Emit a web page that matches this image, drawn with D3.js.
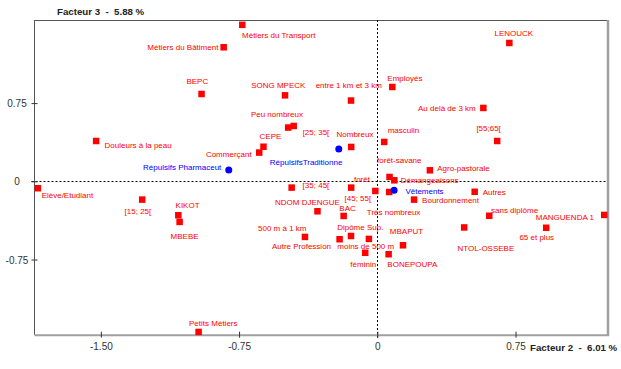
<!DOCTYPE html>
<html>
<head>
<meta charset="utf-8">
<script src="https://cdn.jsdelivr.net/npm/d3@7"></script>
<style>
  body { margin: 0; background: #fff; }
  text { font-family: "Liberation Sans", Arial, sans-serif; }
</style>
</head>
<body>
<div id="plan"></div>
<script>
// modalites actives (carres rouges)
var modalites = ["Métiers du Transport", "Métiers du Bâtiment", "BEPC", "SONG MPECK", "entre 1 km et 3 km",
  "Employés", "LENOUCK", "Au delà de 3 km", "Peu nombreux", "[25; 35[", "CEPE", "Commerçant", "Nombreux",
  "masculin", "[55;65[", "Douleurs à la peau", "Agro-pastorale", "forêt-savane", "Démangeaisons",
  "Elève/Etudiant", "[15; 25[", "KIKOT", "MBEBE", "[35; 45[", "forêt", "[45; 55[", "Très nombreux",
  "Autres", "Bourdonnement", "sans diplôme", "NTOL-OSSEBE", "MANGUENDA 1", "65 et plus", "MBAPUT",
  "BONEPOUPA", "féminin", "NDOM DJENGUE", "BAC", "500 m à 1 km", "Autre Profession", "Dipôme Sup.",
  "moins de 500 m", "Petits Métiers"];
var f2 = [-0.734, -0.835, -0.955, -0.502, -0.144,
  0.080, 0.715, 0.574, -0.485, -0.455, -0.619, -0.642, -0.143,
  0.036, 0.649, -1.527, 0.284, 0.065, 0.091,
  -1.843, -1.277, -1.081, -1.074, -0.466, -0.143, -0.012, 0.063,
  0.527, 0.198, 0.606, 0.470, 1.230, 0.915, 0.138,
  0.060, -0.067, -0.326, -0.184, -0.394, -0.206, -0.144,
  -0.047, -0.971];
var f3 = [1.503, 1.288, 0.840, 0.827, 0.777,
  0.907, 1.329, 0.706, 0.518, 0.533, 0.334, 0.278, 0.332,
  0.380, 0.389, 0.389, 0.108, 0.044, 0.012,
  -0.064, -0.173, -0.323, -0.387, -0.058, -0.058, -0.090, -0.100,
  -0.098, -0.173, -0.328, -0.440, -0.320, -0.443, -0.611,
  -0.697, -0.683, -0.285, -0.330, -0.531, -0.553, -0.522,
  -0.550, -1.442];

// variables supplementaires (points bleus)
var supplementaires = ["Répulsifs Pharmaceut", "RépulsifsTraditionne", "Vêtements"];
var sf2 = [-0.806, -0.209, 0.091];
var sf3 = [0.108, 0.310, -0.086];

var xTicks = [-1.5, -0.75, 0, 0.75];
var yTicks = [-0.75, 0, 0.75];
var xTickLabels = ["-1.50", "-0.75", "0", "0.75"];
var yTickLabels = ["-0.75", "0", "0.75"];

// placement des etiquettes : ancre, dx, dy (pixels)
var placement = {
  "Métiers du Transport": ["start", 0, 13.5], "Métiers du Bâtiment": ["end", -5, 3.3],
  "BEPC": ["middle", -4, -10], "SONG MPECK": ["middle", -6.5, -7],
  "entre 1 km et 3 km": ["middle", -2, -12], "Employés": ["start", -4.7, -5.4],
  "LENOUCK": ["middle", 4.8, -7], "Au delà de 3 km": ["end", -7.3, 3.6],
  "Peu nombreux": ["middle", -11, -10.3], "[25; 35[": ["start", 9.2, 9],
  "CEPE": ["middle", 7.2, -7.8], "Commerçant": ["end", -7.3, 4.4],
  "Nombreux": ["middle", 4, -9.4], "masculin": ["start", 3.7, -8.7],
  "[55;65[": ["middle", -8.3, -10], "Douleurs à la peau": ["start", 8.7, 7.3],
  "Agro-pastorale": ["start", 7.6, 1], "forêt-savane": ["middle", 10, -13.7],
  "Démangeaisons": ["start", 6.7, 3.3], "Elève/Etudiant": ["start", 4, 10.3],
  "[15; 25[": ["middle", -4, 14.7], "KIKOT": ["middle", 9.5, -6.7],
  "MBEBE": ["middle", 5.2, 17], "[35; 45[": ["start", 11.2, 1],
  "forêt": ["middle", 11, -5.3], "[45; 55[": ["middle", -17.2, 10.6],
  "Très nombreux": ["middle", 4.7, 23], "Autres": ["start", 8.2, 3.5],
  "Bourdonnement": ["start", 8.3, 3.7], "sans diplôme": ["start", 2, -2.5],
  "NTOL-OSSEBE": ["middle", 22, 23.8], "MANGUENDA 1": ["end", -10, 5.3],
  "65 et plus": ["middle", -9.2, 12.2], "MBAPUT": ["middle", 3.8, -11],
  "BONEPOUPA": ["start", -1, 13.3], "féminin": ["middle", -1.7, 14.8],
  "NDOM DJENGUE": ["middle", -9.8, -5.7], "BAC": ["middle", 4.2, -4.4],
  "500 m à 1 km": ["middle", -22.4, -6], "Autre Profession": ["end", -8.3, 9.7],
  "Dipôme Sup.": ["middle", 9.5, -6], "moins de 500 m": ["middle", -2.9, 10.3],
  "Petits Métiers": ["start", -9.3, -5.4], "Répulsifs Pharmaceut": ["end", -7.4, 0.3],
  "RépulsifsTraditionne": ["middle", -32.7, 15.7], "Vêtements": ["start", 11.3, 3.4]
};

var width = 621, height = 369;
var plotLeft = 34.5, plotRight = 607.5, plotTop = 20, plotBottom = 334.7;

var svg = d3.select("#plan")
  .append("svg")
  .attr("width", width)
  .attr("height", height);

var x = d3.scaleLinear()
  .domain([-1.86, 1.249])
  .range([plotLeft, plotRight]);

var y = d3.scaleLinear()
  .domain([-1.471, 1.547])
  .range([plotBottom, plotTop]);

// cadre
svg.append("line").attr("x1", plotLeft).attr("x2", plotRight).attr("y1", plotTop + 0.5).attr("y2", plotTop + 0.5)
  .style("stroke", "#555").style("stroke-width", 1);
svg.append("line").attr("x1", plotRight + 0.5).attr("x2", plotRight + 0.5).attr("y1", plotTop).attr("y2", plotBottom + 1)
  .style("stroke", "#a0a0a0").style("stroke-width", 2.5);
svg.append("line").attr("x1", plotLeft).attr("x2", plotRight + 1.5).attr("y1", plotBottom + 0.5).attr("y2", plotBottom + 0.5)
  .style("stroke", "#a0a0a0").style("stroke-width", 2);

// axes des zeros
svg.append("line")
  .attr("x1", plotLeft - 3).attr("x2", plotRight)
  .attr("y1", Math.round(y(0)) + 0.5).attr("y2", Math.round(y(0)) + 0.5)
  .style("stroke", "#000").style("stroke-dasharray", "2,2");
svg.append("line")
  .attr("x1", Math.round(x(0)) + 0.5).attr("x2", Math.round(x(0)) + 0.5)
  .attr("y1", plotTop).attr("y2", plotBottom + 3)
  .style("stroke", "#000").style("stroke-dasharray", "2,2");

var yAxis = svg.append("g")
  .attr("transform", "translate(" + plotLeft + ",0)")
  .call(d3.axisLeft(y).tickValues(yTicks).tickSize(0).tickPadding(0)
    .tickFormat(function (d, i) { return yTickLabels[i]; }));
yAxis.select(".domain").attr("d", "M0," + plotTop + "V" + plotBottom).style("stroke", "#555");
yAxis.selectAll(".tick line").attr("x1", -3).attr("x2", 3).style("stroke", "#333");
yAxis.selectAll(".tick text")
  .attr("text-anchor", "middle").attr("x", -17.5).attr("dy", "0.35em")
  .style("font-size", "10px").style("fill", "#333");

var xAxis = svg.append("g")
  .attr("transform", "translate(0," + plotBottom + ")")
  .call(d3.axisBottom(x).tickValues(xTicks).tickSize(0).tickPadding(0)
    .tickFormat(function (d, i) { return xTickLabels[i]; }));
xAxis.select(".domain").remove();
xAxis.selectAll(".tick line").attr("y1", -3).attr("y2", 3).style("stroke", "#333");
xAxis.selectAll(".tick text")
  .attr("y", 15.8).attr("dy", 0)
  .style("font-size", "10px").style("fill", "#333");

svg.append("text")
  .attr("x", 57).attr("y", 14.5)
  .style("font-size", "9.7px").style("font-weight", "bold").style("fill", "#222")
  .style("white-space", "pre")
  .text("Facteur 3  -  5.88 %");

svg.append("text")
  .attr("x", 530).attr("y", 350.5)
  .style("font-size", "9.7px").style("font-weight", "bold").style("fill", "#222")
  .style("white-space", "pre")
  .text("Facteur 2  -  6.01 %");

var actifs = modalites.map(function (m, i) { return { nom: m, a: f2[i], b: f3[i] }; });
var supp = supplementaires.map(function (m, i) { return { nom: m, a: sf2[i], b: sf3[i] }; });

svg.append("g")
  .selectAll("rect")
  .data(actifs)
  .enter()
  .append("rect")
  .attr("x", function (d) { return x(d.a) - 3; })
  .attr("y", function (d) { return y(d.b) - 3; })
  .attr("width", 6.5)
  .attr("height", 6.5)
  .style("fill", "#ff0000");

svg.append("g")
  .selectAll("circle")
  .data(supp)
  .enter()
  .append("circle")
  .attr("cx", function (d) { return x(d.a); })
  .attr("cy", function (d) { return y(d.b); })
  .attr("r", 3.5)
  .style("fill", "#0000ff");

function etiquettes(data, couleur) {
  svg.append("g")
    .selectAll("text")
    .data(data)
    .enter()
    .append("text")
    .attr("x", function (d) { return x(d.a) + placement[d.nom][1]; })
    .attr("y", function (d) { return y(d.b) + placement[d.nom][2]; })
    .attr("text-anchor", function (d) { return placement[d.nom][0]; })
    .style("font-size", "8px")
    .style("fill", couleur)
    .text(function (d) { return d.nom; });
}
etiquettes(actifs, "#ff0000");
etiquettes(supp, "#0000ff");
</script>
</body>
</html>
